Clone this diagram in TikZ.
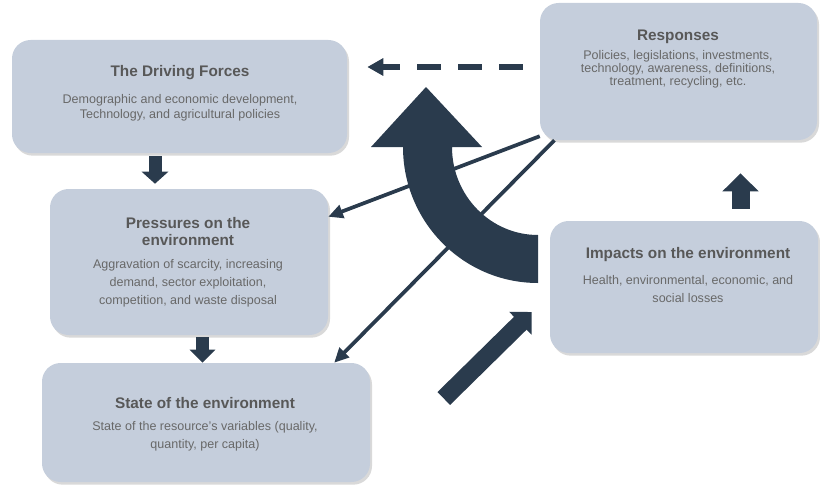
\documentclass[tikz,border=0pt]{standalone}
\usepackage{fontspec}
\setmainfont{Liberation Sans}
\usetikzlibrary{arrows.meta}
\usetikzlibrary{calc}
\usetikzlibrary{shadows}

\definecolor{boxfill}{RGB}{197,206,220}
\definecolor{arrowblue}{RGB}{42,59,77}
\definecolor{titlegray}{RGB}{88,88,88}
\definecolor{bodygray}{RGB}{104,104,104}

\tikzset{
	box/.style={fill=boxfill, rounded corners=14pt, inner sep=0pt,
		drop shadow={shadow xshift=1.5pt, shadow yshift=-2pt, opacity=0.25, fill=black!60}},
	ttl/.style={text=titlegray, align=center, inner sep=0pt, font=\fontsize{11.5}{12.75}\selectfont\bfseries},
	body/.style={text=bodygray, align=center, inner sep=0pt, font=\fontsize{9.4}{#1}\selectfont},
	body/.default=13.3,
	fatarrow/.style n args={3}{arrowblue, line width=#1, -{Triangle[length=#2, width=#3]}},
	thinarrow/.style={arrowblue, line width=2.8pt, -{Triangle[length=11pt, width=10pt]}},
	dasharrow/.style={arrowblue, line width=4pt, dash pattern=on 18pt off 12.75pt, -{Triangle[length=12pt, width=12.5pt]}}
}

\begin{document}
\begin{tikzpicture}[x=0.75pt, y=-0.75pt]
	\useasboundingbox (0,0) rectangle (820,485);

	% Boxes
	\begin{scope}
		\node[box, minimum width=251.25pt, minimum height=84.75pt] (drv) at (179.5,96.5) {};
		\node[box, minimum width=207.75pt, minimum height=102.75pt] (resp) at (678.5,71.5) {};
		\node[box, minimum width=208.5pt, minimum height=109.5pt] (pres) at (189,262) {};
		\node[box, minimum width=246pt, minimum height=89.25pt] (state) at (206,422.5) {};
		\node[box, minimum width=201pt, minimum height=99pt] (imp) at (684,287) {};
	\end{scope}

	% Texts
	\node[ttl] (drv-title) at (180,73) {The Driving Forces};
	\node[body=11.25] (drv-body) at (180,107.5) {Demographic and economic development,\\Technology, and agricultural policies};

	\node[ttl] (resp-title) at (678,37) {Responses};
	\node[body=8.6] (resp-body) at (678,69.5) {Policies, legislations, investments,\\technology, awareness, definitions,\\treatment, recycling, etc.};

	\node[ttl] (pres-title) at (188,231.5) {Pressures on the\\environment};
	\node[body=13.5] (pres-body) at (188,283) {Aggravation of scarcity, increasing\\demand, sector exploitation,\\competition, and waste disposal};

	\node[ttl] (state-title) at (205,403) {State of the environment};
	\node[body] (state-body) at (205,436) {State of the resource’s variables (quality,\\quantity, per capita)};

	\node[ttl] (imp-title) at (688,255) {Impacts on the environment};
	\node[body] (imp-body) at (688,289) {Health, environmental, economic, and\\social losses};

	% Block arrows between boxes
	\draw[fatarrow={9.75pt}{9pt}{19.5pt}] ($(drv.south)+(-24.5,3)$) -- ($(pres.north)+(-34,-5)$);
	\draw[fatarrow={9.75pt}{9.75pt}{18.75pt}] ($(pres.south)+(13.5,2)$) -- ($(state.north)+(-3.5,0)$);
	\draw[fatarrow={13.5pt}{13.5pt}{26.25pt}] ($(imp.north)+(56.5,-12)$) -- ($(resp.south)+(62,33)$);

	\coordinate (diagtail) at ($(state.east)+(73.5,-24)$);
	\coordinate (diagtip) at ($(imp.west)+(-18,25)$);
	\draw[fatarrow={13.5pt}{12pt}{23.25pt}] (diagtail) -- (diagtip);

	% Dashed arrow back to the driving forces
	\draw[dasharrow] ($(resp.west)+(-17,-4.5)$) -- ($(drv.east)+(20,-29.5)$);

	% Thin arrows from the responses
	\draw[thinarrow] (resp.205) -- (pres.18);
	\draw[thinarrow] (resp.209) -- (state.25);

	% Curved arrow
	\fill[arrowblue] (538,283) arc[start angle=90, end angle=180, x radius=135, y radius=136]
		-- (371,147) -- (426,87) -- (482,147) -- (452,147)
		arc[start angle=180, end angle=90, x radius=86, y radius=88] -- cycle;
\end{tikzpicture}
\end{document}
